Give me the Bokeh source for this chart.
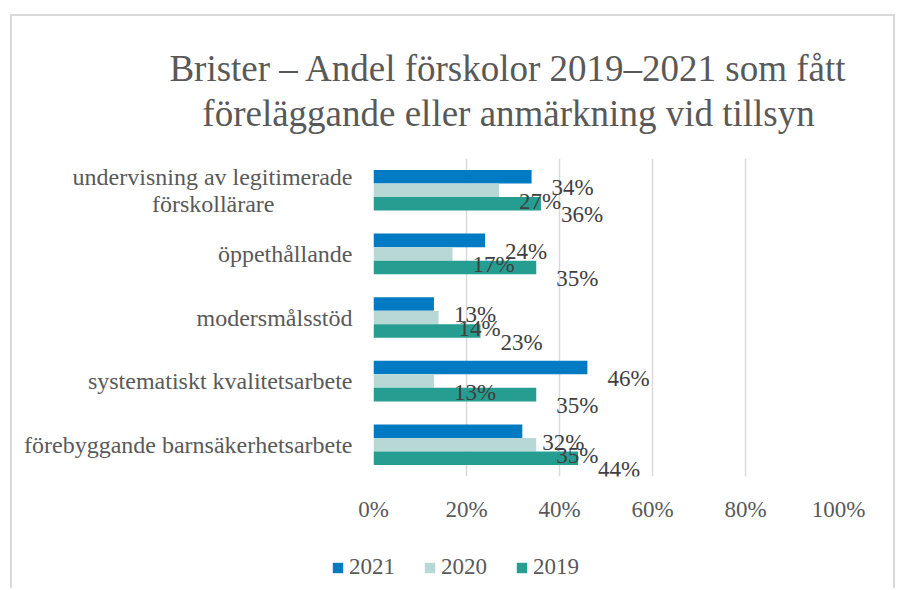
from bokeh.plotting import figure
from bokeh.layouts import column
from bokeh.models import (FactorRange, Range1d, ColumnDataSource, FixedTicker, Legend,
                          LegendItem)
from bokeh.transform import dodge
from bokeh.core.properties import value
from bokeh.embed import file_html
from bokeh.resources import INLINE

# ---- data (top to bottom as in the chart) ----
categories = [
    "undervisning av legitimerade\nförskollärare",
    "öppethållande",
    "modersmålsstöd",
    "systematiskt kvalitetsarbete",
    "förebyggande barnsäkerhetsarbete",
]
years = ["2021", "2020", "2019"]
v2021 = [34, 24, 13, 46, 32]
v2020 = [27, 17, 14, 13, 35]
v2019 = [36, 35, 23, 35, 44]
x_ticks = [0, 20, 40, 60, 80, 100]
x_tick_labels = ["0%", "20%", "40%", "60%", "80%", "100%"]
title_lines = ["Brister – Andel förskolor 2019–2021 som fått",
               "föreläggande eller anmärkning vid tillsyn"]

colors = {"2021": "#007AC2", "2020": "#B8D8D6", "2019": "#269D91"}
series = {"2021": v2021, "2020": v2020, "2019": v2019}
offsets = {"2021": 0.2126, "2020": 0.0, "2019": -0.2126}

FONT = "Liberation Serif"
W = 881

# factor names: the wrapped label's 2nd line is padded so it sits centred under the 1st
NBSP_PAD = "\u00a0" * 13
factors = [c + NBSP_PAD if "\n" in c else c for c in categories]

# ---------------- title figure ----------------
tf = figure(width=W, height=142, x_range=Range1d(0, W), y_range=Range1d(142, 0),
            x_axis_type=None, y_axis_type=None, min_border=0,
            output_backend="svg", toolbar_location=None)
tf.frame_align = False
tf.outline_line_color = None
tf.grid.visible = False
tsrc = ColumnDataSource(dict(t=title_lines, x=[496, 496], y=[52, 97]))
tf.text(x="x", y="y", text="t", source=tsrc, text_align="center",
        text_baseline="alphabetic", text_font=value(FONT), text_font_size="37px",
        text_color="#595959")

# ---------------- main figure ----------------
p = figure(
    width=W, height=378,
    y_range=FactorRange(factors=list(reversed(factors))),
    x_range=Range1d(0, 100),
    frame_width=465, frame_height=318,
    min_border_left=361, min_border_right=55,
    min_border_top=0, min_border_bottom=60,
    output_backend="svg", toolbar_location=None,
)
p.frame_align = False
p.outline_line_color = None

renderers = {}
sources = {}
for yr in years:
    vals = series[yr]
    src = ColumnDataSource(dict(cat=factors, val=vals,
                                lab=[f"{v}%" for v in vals]))
    sources[yr] = src
    renderers[yr] = p.hbar(y=dodge("cat", offsets[yr], range=p.y_range), right="val",
                           left=0, height=0.2126, source=src,
                           fill_color=colors[yr], line_color=None)
# data labels drawn on top of all bars
for yr in years:
    p.text(x="val", y=dodge("cat", offsets[yr], range=p.y_range), text="lab",
           source=sources[yr], x_offset=20, y_offset=11, text_baseline="alphabetic",
           text_align="left", text_font=value(FONT), text_font_size="23px",
           text_color="#404040")

p.xaxis.ticker = FixedTicker(ticks=x_ticks)
p.xaxis.major_label_overrides = {t: l for t, l in zip(x_ticks, x_tick_labels)}
p.xgrid.ticker = FixedTicker(ticks=x_ticks)
p.xgrid.grid_line_color = "#d9d9d9"
p.xgrid.grid_line_width = 1.5
p.ygrid.grid_line_color = None
for ax in (p.xaxis, p.yaxis):
    ax.axis_line_color = None
    ax.major_tick_line_color = None
    ax.minor_tick_line_color = None
    ax.major_label_text_font = FONT
    ax.major_label_text_color = "#595959"
p.xaxis.major_label_text_font_size = "23px"
p.xaxis.major_label_standoff = 14
p.yaxis.major_label_text_font_size = "24px"
p.yaxis.major_label_text_line_height = 1.05
p.yaxis.major_label_standoff = 15

# ---------------- legend figure ----------------
lf = figure(width=W, height=52, x_range=Range1d(0, W), y_range=Range1d(0, 52),
            x_axis_type=None, y_axis_type=None, min_border=0,
            output_backend="svg", toolbar_location=None)
lf.frame_align = False
lf.outline_line_color = None
lf.grid.visible = False
leg_renderers = {}
for yr in years:
    rr = lf.hbar(y=dodge("cat", offsets[yr]), right="val", left=0, height=0.2126,
                 source=ColumnDataSource(dict(cat=[0] * len(categories),
                                              val=series[yr])),
                 fill_color=colors[yr], line_color=None, visible=False)
    leg_renderers[yr] = rr
legend = Legend(items=[LegendItem(label=yr, renderers=[leg_renderers[yr]]) for yr in years],
                orientation="horizontal", location=(319, 8))
legend.glyph_width = 13
legend.glyph_height = 13
legend.label_standoff = 5
legend.spacing = 28
legend.padding = 0
legend.margin = 0
legend.border_line_color = None
legend.background_fill_alpha = 0
legend.label_text_font = FONT
legend.label_text_font_size = "23px"
legend.label_text_color = "#595959"
lf.add_layout(legend, "center")

layout = column(tf, p, lf, spacing=0)
layout.margin = (14, 0, 0, 10)
layout.styles = {"border-top": "2px solid #d9d9d9",
                 "border-left": "2px solid #d9d9d9",
                 "border-right": "2px solid #d9d9d9"}

open("out.html", "w").write(file_html(layout, INLINE))
